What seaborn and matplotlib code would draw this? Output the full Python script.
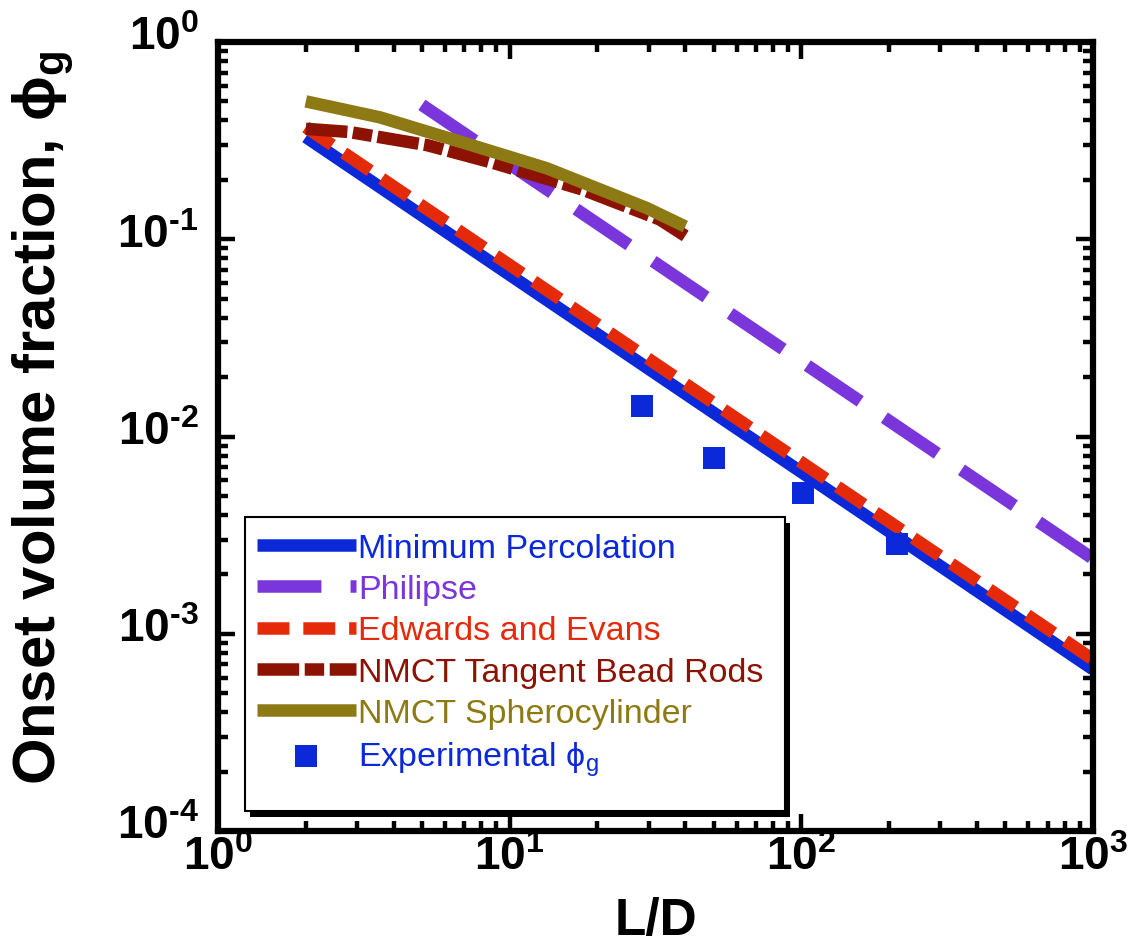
import numpy as np
import matplotlib
matplotlib.use("Agg")
import matplotlib.pyplot as plt
import matplotlib.transforms as mtransforms
import seaborn as sns
from matplotlib.ticker import FuncFormatter, LogLocator, NullFormatter
from matplotlib.patches import Rectangle

# ---------------- data ----------------
x_minperc = [2, 10, 100, 1000]
y_minperc = [0.33, 0.066, 0.0066, 0.00066]

x_philipse = [5, 10, 100, 1000]
y_philipse = [0.48, 0.24, 0.024, 0.0024]

x_edwards = [2, 10, 100, 1000]
y_edwards = [0.37, 0.074, 0.0074, 0.00074]

x_tangent = [2, 2.81, 5.21, 8.77, 17.7, 32.7, 40]
y_tangent = [0.363, 0.350, 0.300, 0.244, 0.179, 0.126, 0.104]

x_sphero = [2, 3.59, 6.74, 13.4, 29.5, 40]
y_sphero = [0.50, 0.415, 0.313, 0.229, 0.144, 0.116]

x_exp = [28.4, 50.2, 101, 213]
y_exp = [0.0142, 0.0078, 0.0052, 0.00286]

labels = ["Minimum Percolation", "Philipse", "Edwards and Evans",
          "NMCT Tangent Bead Rods", "NMCT Spherocylinder",
          "Experimental \u03d5$_\\mathregular{g}$"]
colors = ["#0B28D9", "#7A35DB", "#E42A08", "#8C1203", "#8E7A14", "#0B28D9"]

# ---------------- style ----------------
sns.set_style("ticks")
plt.rcParams["font.family"] = ["Liberation Sans", "DejaVu Sans"]
plt.rcParams["mathtext.fontset"] = "custom"
plt.rcParams["mathtext.rm"] = "Liberation Sans"
plt.rcParams["mathtext.bf"] = "Liberation Sans:bold"
plt.rcParams["mathtext.it"] = "Liberation Sans:italic"
plt.rcParams["lines.scale_dashes"] = False
for k in ["text.color", "axes.labelcolor", "xtick.color", "ytick.color", "axes.edgecolor"]:
    plt.rcParams[k] = "black"

fig = plt.figure(figsize=(11.37, 9.45), dpi=100)
ax = fig.add_axes([218 / 1137, 1 - 832 / 945, (1093 - 218) / 1137, (832 - 43) / 945])
ax.set_xscale("log")
ax.set_yscale("log")

lw = 9
series = [
    (x_minperc, y_minperc, colors[0], "-", 2.0),
    (x_philipse, y_philipse, colors[1], (0, (46, 21)), 2.1),
    (x_edwards, y_edwards, colors[2], (0, (23, 10)), 2.2),
    (x_tangent, y_tangent, colors[3], (0, (30, 4, 14, 4)), 2.3),
    (x_sphero, y_sphero, colors[4], "-", 2.4),
]
for (xs, ys, c, ls, z), lab in zip(series, labels[:5]):
    sns.lineplot(x=xs, y=ys, ax=ax, color=c, linewidth=lw, linestyle=ls,
                 estimator=None, sort=False, label=lab, zorder=z,
                 solid_capstyle="butt", dash_capstyle="butt",
                 solid_joinstyle="miter")

sns.scatterplot(x=x_exp, y=y_exp, ax=ax, color=colors[5], marker="s", s=256,
                linewidth=0, label=labels[5], zorder=3)

ax.set_xlim(1, 1000)
ax.set_ylim(1e-4, 1)

def fmt(v, pos):
    e = int(round(np.log10(v)))
    s = str(e).replace("-", "\u2010")
    return r"$\mathbf{10^{" + s + r"}}$"

for axis in (ax.xaxis, ax.yaxis):
    axis.set_major_locator(LogLocator(base=10, numticks=10))
    axis.set_minor_locator(LogLocator(base=10, subs=np.arange(2, 10), numticks=20))
    axis.set_major_formatter(FuncFormatter(fmt))
    axis.set_minor_formatter(NullFormatter())

ax.tick_params(which="both", direction="in", top=True, right=True, width=3.2, color="black")
ax.tick_params(which="major", length=12)
ax.tick_params(which="minor", length=7)
ax.tick_params(axis="x", which="major", labelsize=33, pad=3)
ax.tick_params(axis="y", which="major", labelsize=33, pad=14)
for sp in ax.spines.values():
    sp.set_linewidth(4.5)
    sp.set_color("black")

ax.set_xlabel("L/D", fontsize=37, fontweight="bold")
ax.xaxis.set_label_coords(0.5, -0.082)
ax.set_ylabel("Onset volume fraction, \u03d5$_\\mathbf{g}$", fontsize=43, fontweight="bold")
ax.yaxis.set_label_coords(-0.162, 0.525)

handles, labs = ax.get_legend_handles_labels()
leg = ax.legend(handles, labs, loc="upper left",
                bbox_to_anchor=((257 - 218) / 875, (832 - 534) / 789),
                borderaxespad=0, fontsize=24.5, handlelength=2.9, handletextpad=0.08,
                borderpad=0, labelspacing=0.3, frameon=False)
leg.set_zorder(11)
for t, c in zip(leg.get_texts(), colors):
    t.set_color(c)

# legend frame and its solid shadow
fx0, fy0 = (245 - 218) / 875, (832 - 812) / 789
fw, fh = (785 - 245) / 875, (812 - 518) / 789
ax.add_patch(Rectangle((fx0 + 5 / 875, fy0 - 6 / 789), fw, fh, transform=ax.transAxes,
                       facecolor="black", edgecolor="none", zorder=9, clip_on=False))
ax.add_patch(Rectangle((fx0, fy0), fw, fh, transform=ax.transAxes,
                       facecolor="white", edgecolor="black", linewidth=1.5,
                       zorder=10, clip_on=False))

# raise the y tick labels slightly, as in the reference
fig.canvas.draw()
lift = mtransforms.ScaledTranslation(0, 7 / 72, fig.dpi_scale_trans)
for lbl in ax.get_yticklabels():
    lbl.set_transform(lbl.get_transform() + lift)

fig.savefig("out.png", dpi=100)
